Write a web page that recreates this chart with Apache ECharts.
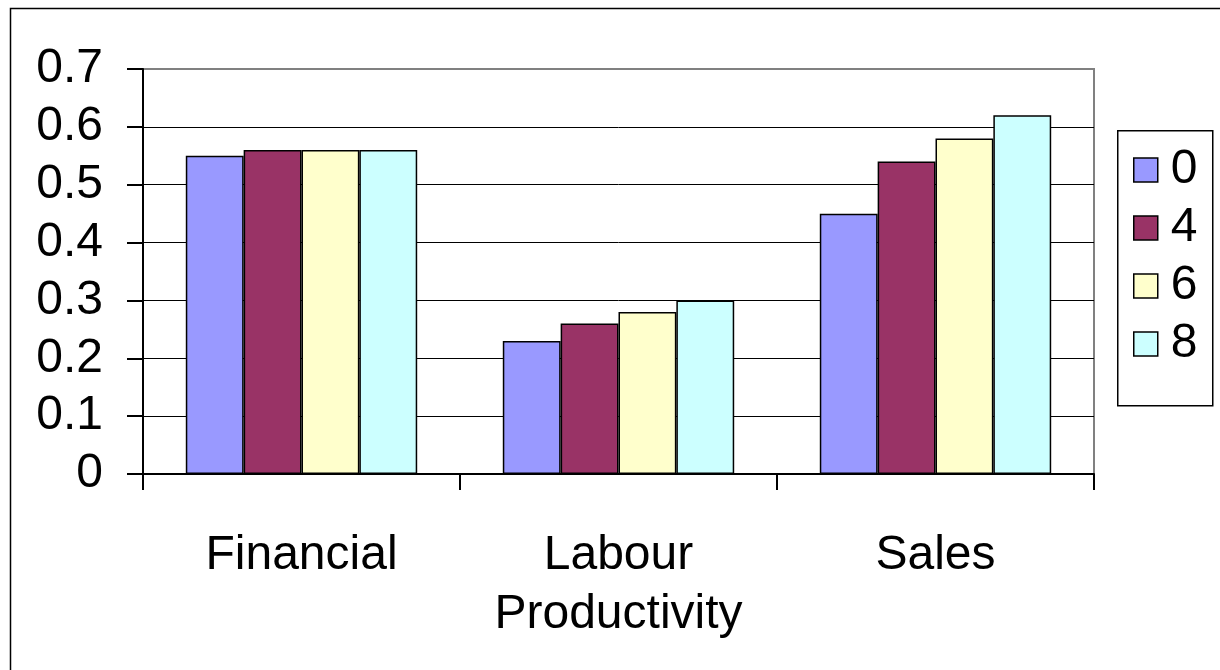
<!DOCTYPE html>
<html>
<head>
<meta charset="utf-8">
<script src="https://cdn.jsdelivr.net/npm/echarts@6/dist/echarts.min.js"></script>
<style>
html,body{margin:0;padding:0;background:#fff;}
#c{width:1220px;height:670px;}
</style>
</head>
<body>
<div id="c"></div>
<script>
const categories = ['Financial', 'Labour\nProductivity', 'Sales'];
const seriesNames = ['0', '4', '6', '8'];
const values0 = [0.55, 0.23, 0.45];
const values4 = [0.56, 0.26, 0.54];
const values6 = [0.56, 0.28, 0.58];
const values8 = [0.56, 0.30, 0.62];
const colors = ['#9999FF', '#993366', '#FFFFCC', '#CCFFFF'];
const allValues = [values0, values4, values6, values8];

const FONT = '"Liberation Sans", Arial, sans-serif';
const FS = 48;

const chart = echarts.init(document.getElementById('c'), null, {renderer: 'canvas'});
chart.setOption({
  animation: false,
  backgroundColor: '#fff',
  textStyle: {fontFamily: FONT, color: '#000'},
  grid: {left: 143, right: 126, top: 69, bottom: 196, show: true, borderColor: '#808080', borderWidth: 2, backgroundColor: 'transparent'},
  graphic: [
    {type: 'rect', left: 8, top: 6, shape: {width: 1240, height: 700}, style: {fill: 'none', stroke: '#000', lineWidth: 1.5}, z: -10, silent: true},
    {type: 'rect', left: 1117, top: 130, shape: {width: 95, height: 275}, style: {fill: '#fff', stroke: '#000', lineWidth: 1.5}, z: 5, silent: true}
  ],
  legend: {
    orient: 'vertical',
    left: 1133, top: 146,
    padding: 0,
    itemWidth: 24, itemHeight: 24, itemGap: 10,
    icon: 'rect',
    z: 10,
    textStyle: {fontFamily: FONT, fontSize: FS, color: '#000', padding: [0, 0, 0, 8]},
    itemStyle: {borderColor: '#000', borderWidth: 1.5},
    data: seriesNames
  },
  xAxis: {
    type: 'category',
    data: categories,
    axisLine: {show: true, lineStyle: {color: '#000', width: 2}},
    axisTick: {show: true, interval: 0, length: 16, lineStyle: {color: '#000', width: 2}},
    axisLabel: {interval: 0, margin: 52, fontFamily: FONT, fontSize: FS, color: '#000', lineHeight: 59},
    splitLine: {show: false}
  },
  yAxis: {
    type: 'value',
    min: 0, max: 0.7, interval: 0.1,
    axisLine: {show: true, lineStyle: {color: '#000', width: 2}},
    axisTick: {show: true, length: 16, lineStyle: {color: '#000', width: 2}},
    axisLabel: {margin: 40, fontFamily: FONT, fontSize: FS, color: '#000',
      formatter: v => (Math.abs(v) < 1e-9 ? '0' : v.toFixed(1))},
    splitLine: {show: true, lineStyle: {color: ['#000','#000','#000','#000','#000','#000','#000','#808080'], width: 1}}
  },
  series: seriesNames.map((n, i) => ({
    name: n,
    type: 'bar',
    data: allValues[i],
    barGap: '0%',
    barCategoryGap: '27%',
    itemStyle: {color: colors[i], borderColor: '#000', borderWidth: 1.5}
  }))
});
</script>
</body>
</html>
